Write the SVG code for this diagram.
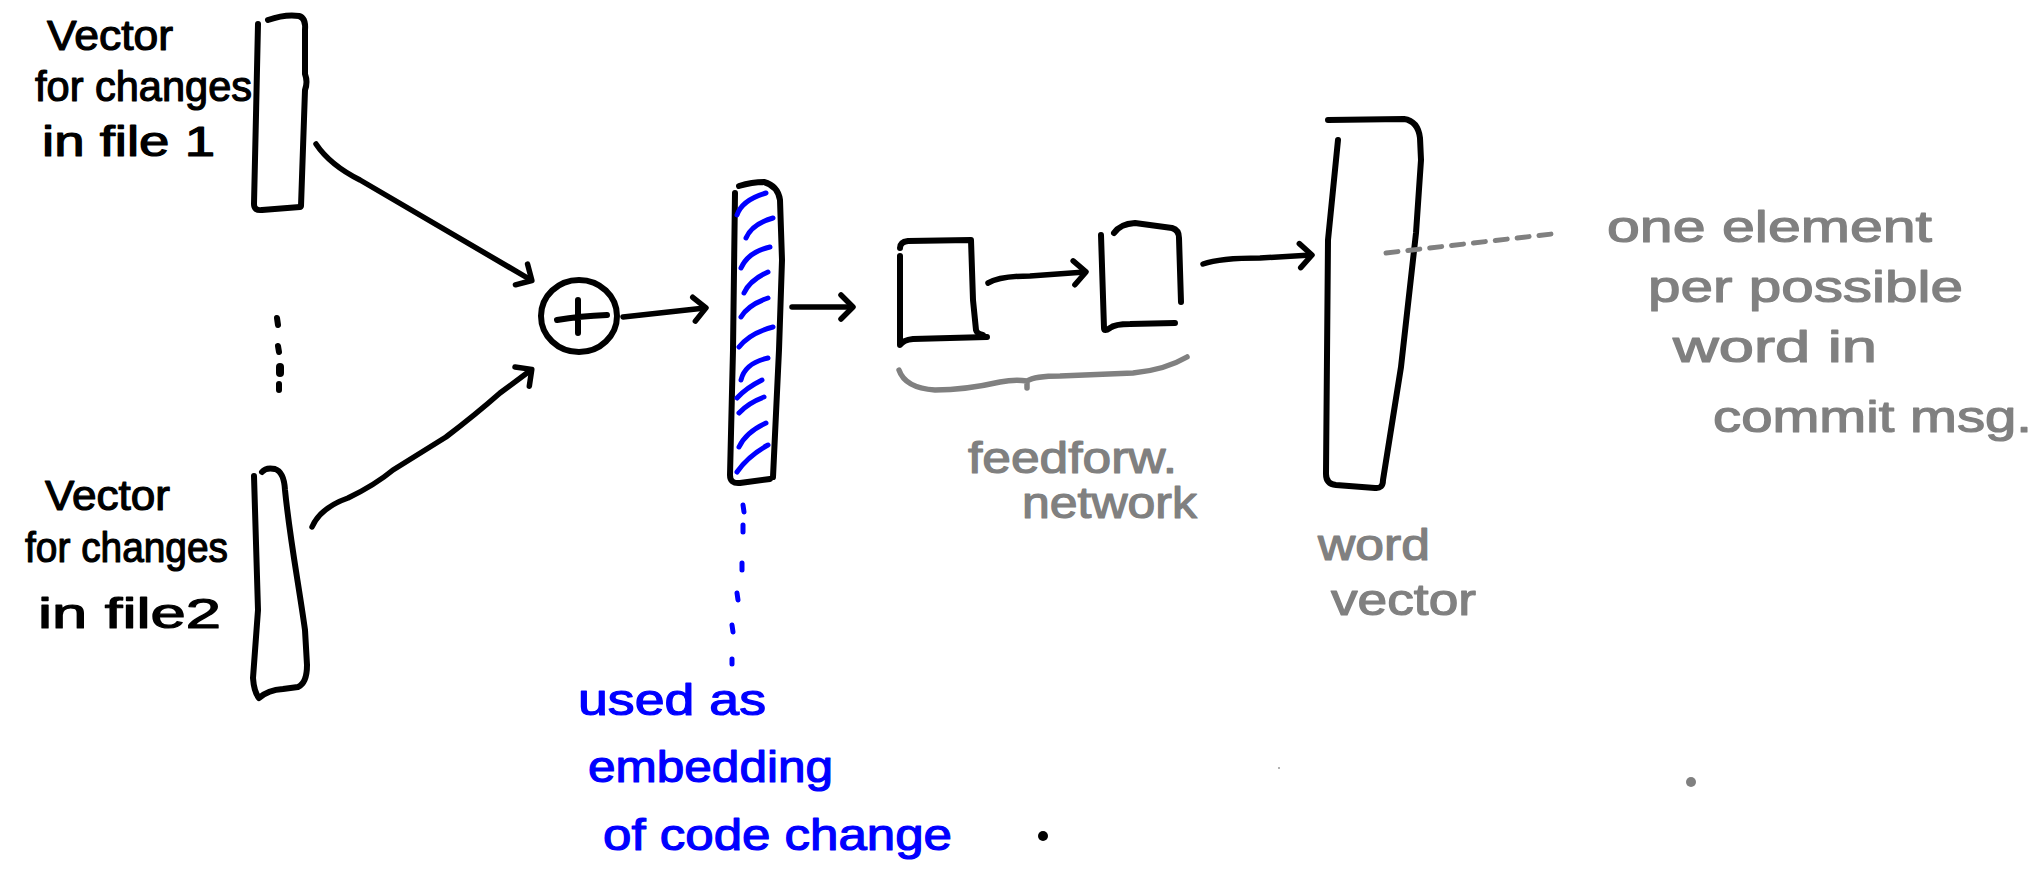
<svg xmlns="http://www.w3.org/2000/svg" width="2039" height="882" viewBox="0 0 2039 882">
<style>
.bg{fill:#ffffff}
.ink{fill:none;stroke:#000;stroke-width:6;stroke-linecap:round;stroke-linejoin:round}
.hatch{fill:none;stroke:#0000ff;stroke-width:5;stroke-linecap:round}
.gline{fill:none;stroke:#808080;stroke-width:5.5;stroke-linecap:round;stroke-linejoin:round}
.arrow{fill:none;stroke:#000;stroke-width:5.5;stroke-linecap:round;stroke-linejoin:round;marker-end:url(#head)}
.t{font-family:"Liberation Sans",Arial,sans-serif;font-size:42px;stroke-width:1.2;stroke-linejoin:round}
.k{fill:#000;stroke:#000}
.b{fill:#0000ff;stroke:#0000ff;font-size:44px}
.g{fill:#808080;stroke:#808080;font-size:44px}
</style>
<defs>
<marker id="head" markerUnits="userSpaceOnUse" markerWidth="40" markerHeight="40" refX="0" refY="0" viewBox="-20 -20 40 40" orient="auto" overflow="visible">
<path d="M -11 -12 L 1 0 L -11 12" fill="none" stroke="#000" stroke-width="5.5" stroke-linecap="round" stroke-linejoin="round"/>
</marker>
</defs>
<rect class="bg" x="0" y="0" width="2039" height="882"/>

<g id="vector-file1">
<path class="ink" d="M 258 24 C 257 80 255 150 254 204 Q 254 211 262 210 L 300 207"/>
<path class="ink" d="M 268 20 Q 285 14 299 16 Q 306 18 305 30 L 305 74 Q 308 82 305 90 L 301 206"/>
<text class="t k" x="47" y="50" textLength="126" lengthAdjust="spacingAndGlyphs">Vector</text>
<text class="t k" x="35" y="101" textLength="217" lengthAdjust="spacingAndGlyphs">for changes</text>
<text class="t k" x="42" y="156" textLength="173" lengthAdjust="spacingAndGlyphs">in file 1</text>
</g>

<g id="ellipsis">
<path class="ink" d="M 277 318 L 278 325 M 278 346 L 279 352 M 279 384 L 279 390"/>
<path class="ink" d="M 280 367 L 280 373" style="stroke-width:8"/>
</g>

<g id="vector-file2">
<path class="ink" d="M 254 476 L 258 610 L 253 678 Q 254 692 259 698 Q 268 690 283 689 L 298 687 Q 307 683 307 665 L 305 630 C 298 580 290 540 285 490 Q 284 472 275 469 Q 266 467 262 472"/>
<text class="t k" x="45" y="510" textLength="125" lengthAdjust="spacingAndGlyphs">Vector</text>
<text class="t k" x="25" y="562" textLength="203" lengthAdjust="spacingAndGlyphs">for changes</text>
<text class="t k" x="38" y="628" textLength="183" lengthAdjust="spacingAndGlyphs">in file2</text>
</g>

<g id="sum">
<ellipse class="ink" cx="579" cy="316" rx="38" ry="36"/>
<path class="ink" d="M 557 320 Q 580 316 607 315 M 578 300 L 578 333"/>
</g>

<g id="embedding">
<path class="ink" d="M 735 193 L 733 350 L 730 475 Q 730 484 740 483 L 770 479"/>
<path class="ink" d="M 739 186 Q 752 182 764 182 Q 778 186 780 200 L 782 260 L 779 350 L 773 477"/>
<path class="hatch" d="M 737 215 Q 742 200 766 193 M 746 238 Q 752 224 773 218 M 741 268 Q 748 252 770 247 M 744 293 Q 750 280 768 272 M 741 317 Q 748 305 768 298 M 739 347 Q 750 333 773 327 M 741 380 Q 745 363 768 358 M 737 398 Q 746 388 762 380 M 739 413 Q 748 403 764 397 M 739 447 Q 746 432 766 423 M 737 472 Q 748 456 768 445"/>
<text class="t b" x="578" y="715" textLength="188" lengthAdjust="spacingAndGlyphs">used as</text>
<text class="t b" x="588" y="782" textLength="245" lengthAdjust="spacingAndGlyphs">embedding</text>
<text class="t b" x="603" y="850" textLength="349" lengthAdjust="spacingAndGlyphs">of code change</text>
</g>

<g id="ff-layer1">
<path class="ink" d="M 900 248 Q 900 242 908 241 L 971 240 L 973 300 L 976 330 Q 977 334 983 335"/>
<path class="ink" d="M 900 256 L 900 345 Q 903 340 913 339 L 987 337"/>
</g>

<g id="ff-layer2">
<path class="ink" d="M 1114 233 Q 1120 224 1135 223 L 1172 228 Q 1179 230 1179 238 L 1181 302"/>
<path class="ink" d="M 1101 235 L 1104 328 Q 1104 332 1110 328 Q 1115 324 1130 324 L 1175 323"/>
</g>

<g id="feedforward-brace">
<path class="gline" d="M 899 370 Q 905 388 935 390 Q 965 390 1000 382 Q 1015 379 1027 381 L 1027 388 M 1027 381 Q 1035 376 1060 376 L 1133 373 Q 1165 370 1187 357"/>
<text class="t g" x="968" y="473" textLength="209" lengthAdjust="spacingAndGlyphs">feedforw.</text>
<text class="t g" x="1022" y="518" textLength="175" lengthAdjust="spacingAndGlyphs">network</text>
</g>

<g id="word-vector">
<path class="ink" d="M 1328 120 L 1404 119 Q 1418 121 1420 138 L 1421 160 L 1416 233 L 1401 367 L 1383 480 Q 1383 489 1375 488 L 1336 485 Q 1326 484 1326 474 L 1328 240 L 1338 140"/>
<text class="t g" x="1318" y="560" textLength="112" lengthAdjust="spacingAndGlyphs">word</text>
<text class="t g" x="1331" y="615" textLength="145" lengthAdjust="spacingAndGlyphs">vector</text>
</g>

<g id="word-vector-note">
<text class="t g" x="1607" y="242" textLength="325" lengthAdjust="spacingAndGlyphs">one element</text>
<text class="t g" x="1648" y="302" textLength="315" lengthAdjust="spacingAndGlyphs">per possible</text>
<text class="t g" x="1673" y="362" textLength="204" lengthAdjust="spacingAndGlyphs">word in</text>
<text class="t g" x="1713" y="432" textLength="319" lengthAdjust="spacingAndGlyphs">commit msg.</text>
</g>

<g id="connectors">
<path class="arrow" d="M 316 144 Q 330 165 360 180 L 531 280"/>
<path class="arrow" d="M 312 527 Q 320 508 348 498 Q 375 485 393 470 L 446 437 Q 475 415 500 393 L 531 370"/>
<path class="arrow" d="M 623 317 L 705 308"/>
<path class="arrow" d="M 792 307 L 852 307"/>
<path class="arrow" d="M 988 283 Q 1000 276 1030 276 L 1085 272"/>
<path class="arrow" d="M 1203 264 Q 1220 258 1260 258 L 1311 255"/>
<path d="M 1386 253 L 1552 234" fill="none" stroke="#808080" stroke-width="5" stroke-linecap="round" stroke-dasharray="12 10"/>
<path d="M 743 505 L 744 512 M 743 525 L 743 532 M 742 563 L 742 570 M 737 593 L 738 600 M 732 625 L 733 632 M 732 659 L 732 664" fill="none" stroke="#0000ff" stroke-width="5" stroke-linecap="round"/>
</g>

<g id="stray-dots">
<circle cx="1043" cy="836" r="5" fill="#000"/>
<circle cx="1691" cy="782" r="5" fill="#808080"/>
<circle cx="1279" cy="768" r="1" fill="#999"/>
</g>
</svg>
